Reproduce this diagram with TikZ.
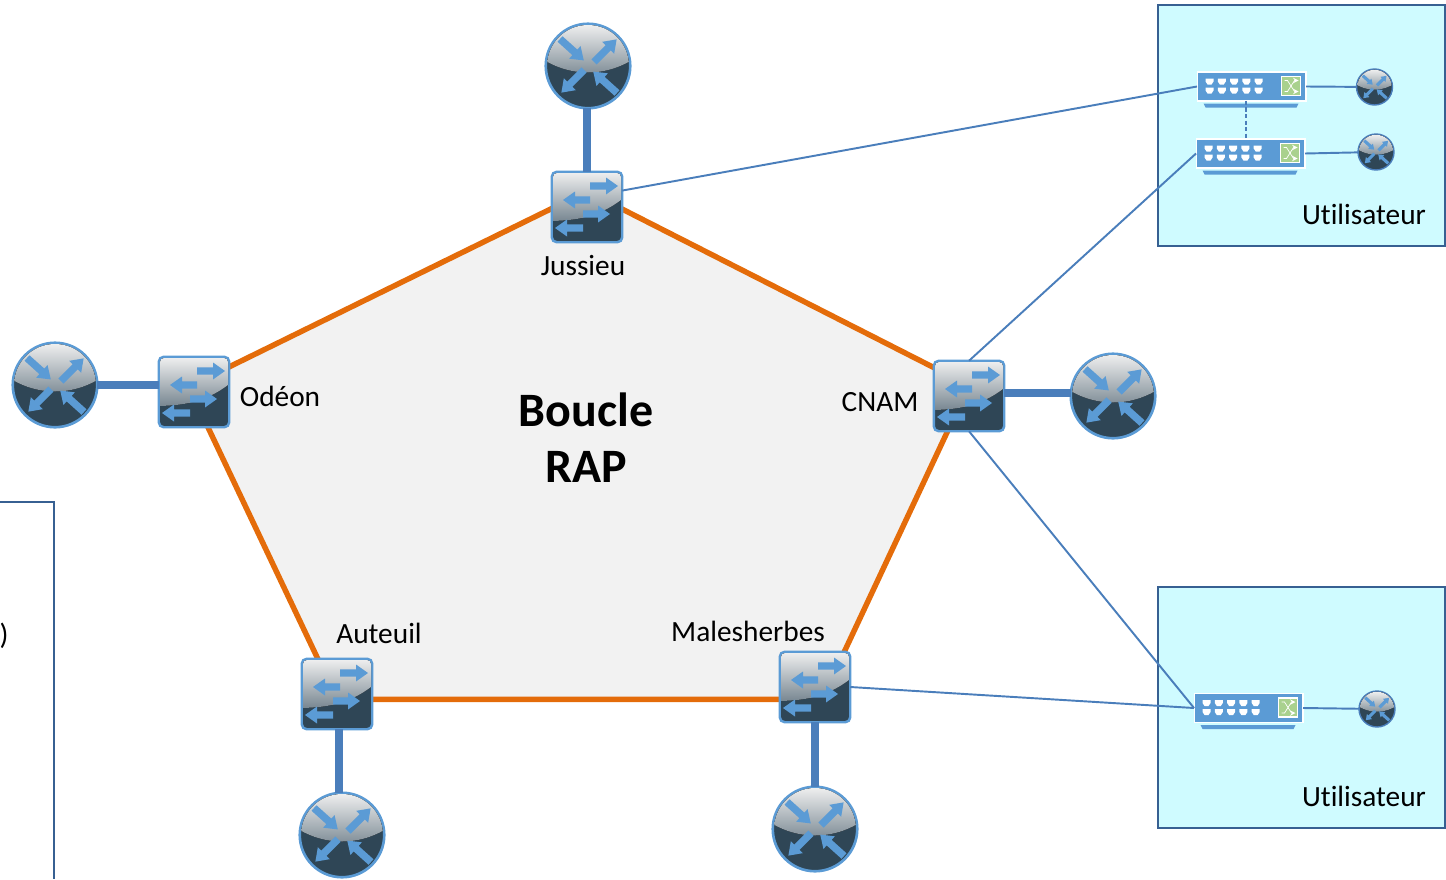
\documentclass[tikz,border=0pt]{standalone}
\usepackage{fontspec}
\setmainfont[Ligatures=NoCommon]{Carlito}
\usetikzlibrary{backgrounds}

\definecolor{ringorange}{HTML}{E46C0A}
\definecolor{ringfill}{HTML}{F2F2F2}
\definecolor{linkblue}{HTML}{4A7EBB}
\definecolor{glyphblue}{HTML}{5B9BD5}
\definecolor{boxline}{HTML}{376092}
\definecolor{boxfill}{HTML}{CFFBFF}
\definecolor{devdark}{HTML}{2F4656}
\definecolor{hubgreen}{HTML}{A9D18E}

\newcommand{\glypharrow}[4]{
    \begin{scope}[shift={(#1,#2)}, rotate=#3]
        \fill[glyphblue] (0,-3.7) -- (#4-12,-3.7) -- (#4-12,-8.5) -- (#4,0) -- (#4-12,8.5) -- (#4-12,3.7) -- (0,3.7) -- cycle;
    \end{scope}
}

\newcommand{\routerdevice}[5]{
    \node[#5] (#1) at (#2,#3) {};
    \begin{scope}[shift={(#1.center)}, scale=#4]
        \begin{scope}
            \clip (0,0) circle (41);
            \fill[top color=black!6, bottom color=devdark!65!white] (-50,-42) -- (50,-42) -- (50,-10)
                .. controls (20,12) and (-20,12) .. (-50,-10) -- cycle;
        \end{scope}
        \glypharrow{-28}{-27}{-42}{32}
        \glypharrow{6}{-4}{45}{32}
        \glypharrow{-4}{4}{-135}{32}
        \glypharrow{29}{27}{138}{32}
    \end{scope}
}

\newcommand{\switchdevice}[3]{
    \node[switchbox] (#1) at (#2,#3) {};
    \begin{scope}[shift={(#1.center)}]
        \begin{scope}
            \clip[rounded corners=.8mm] (-34,-34) rectangle (34,34);
            \fill[top color=black!6, bottom color=devdark!65!white] (-40,-35) -- (40,-35) -- (40,-12)
                .. controls (15,10) and (-10,14) .. (-40,14) -- cycle;
        \end{scope}
        \glypharrow{3}{-21}{0}{28}
        \glypharrow{3}{-7}{180}{27}
        \glypharrow{-4}{7}{0}{27}
        \glypharrow{-4}{21}{180}{28}
    \end{scope}
}

\newcommand{\hubdevice}[3]{
    \node[hubbox] (#1) at (#2,#3) {};
    \begin{scope}[shift={(#1.center)}]
        \fill[glyphblue] (-48,17) -- (47,17) -- (45,21) -- (-46,21) -- cycle;
        \foreach \col in {0,...,4} {
            \foreach \row in {-5,4} {
                \begin{scope}[shift={(-42+12.3*\col,\row)}]
                    \fill[white] (-4,-3) -- (4,-3) -- (4,0) -- (2,3) -- (-2,3) -- (-4,0) -- cycle;
                \end{scope}
            }
        }
        \fill[hubgreen, draw=white, line width=.7pt] (30,-10) rectangle (49,9);
        \draw[white, line width=.4pt, ->, >=stealth] (33,-6) -- (36,-6) -- (43,5) -- (47,5);
        \draw[white, line width=.4pt, ->, >=stealth] (33,5) -- (36,5) -- (43,-6) -- (47,-6);
    \end{scope}
}

\tikzset{
    routerbig/.style={circle, minimum size=1.69cm, inner sep=0pt, outer sep=0pt, fill=devdark,
        draw=glyphblue, line width=1.5pt},
    routersmall/.style={circle, minimum size=.72cm, inner sep=0pt, outer sep=0pt, fill=devdark,
        draw=linkblue, line width=.8pt},
    switchbox/.style={rectangle, rounded corners=1mm, minimum size=1.41cm, inner sep=0pt, outer sep=0pt,
        fill=devdark, draw=glyphblue, line width=1.4pt},
    hubbox/.style={rectangle, minimum width=2.18cm, minimum height=.58cm, inner sep=0pt, outer sep=0pt,
        fill=glyphblue, draw=white, line width=.6pt},
    userbox/.style={rectangle, minimum width=5.74cm, minimum height=4.82cm, inner sep=0pt, outer sep=0pt,
        fill=boxfill, draw=boxline, line width=1.3pt},
    trunk/.style={draw=linkblue, line width=4.4pt},
    thinlink/.style={draw=linkblue, line width=1.1pt},
    ringline/.style={draw=ringorange, fill=ringfill, line width=3.1pt, line join=round},
    site/.style={font=\fontsize{16.7}{20}\selectfont, inner sep=0pt}
}

\begin{document}
\begin{tikzpicture}[x=.02cm, y=-.02cm]
    \useasboundingbox (0,0) rectangle (1446,879);

    \node[userbox] (usertop) at (1301.5,125.5) {};
    \node[userbox] (userbottom) at (1301.5,707.5) {};
    \draw[boxline, line width=1.4pt] (0,502) -- (54,502) -- (54,879);
    \node[site] (cut) at (4,636) {)};

    \switchdevice{jussieu}{587}{207}
    \switchdevice{cnam}{969}{396}
    \switchdevice{malesherbes}{815}{687}
    \switchdevice{auteuil}{337}{694}
    \switchdevice{odeon}{194}{392}

    \routerdevice{rjussieu}{588}{66}{1}{routerbig}
    \routerdevice{rcnam}{1113}{396}{1}{routerbig}
    \routerdevice{rmalesherbes}{815}{829}{1}{routerbig}
    \routerdevice{rauteuil}{342}{835}{1}{routerbig}
    \routerdevice{rodeon}{55}{385}{1}{routerbig}

    \hubdevice{hubone}{1251.5}{86.5}
    \hubdevice{hubtwo}{1250.5}{153.5}
    \hubdevice{hubthree}{1248.5}{708}

    \routerdevice{rone}{1374.5}{87}{.42}{routersmall}
    \routerdevice{rtwo}{1376}{152}{.42}{routersmall}
    \routerdevice{rthree}{1377}{709}{.42}{routersmall}

    \coordinate (cornerj) at ([yshift=9pt]jussieu.center);
    \coordinate (cornerc) at ([yshift=6pt]cnam.center);
    \coordinate (cornerm) at ([xshift=4pt, yshift=-7pt]malesherbes.center);
    \coordinate (cornera) at ([yshift=-3pt]auteuil.center);
    \coordinate (cornero) at ([xshift=-3pt, yshift=3pt]odeon.center);

    \begin{scope}[on background layer]
        \draw[ringline] (cornerj) -- (cornerc) -- (cornerm) -- (cornera) -- (cornero) -- cycle;
    \end{scope}

    \draw[trunk] (rjussieu.south -| jussieu.north) -- (jussieu.north);
    \draw[trunk] ([yshift=1.7pt]rcnam.west) -- ([yshift=1.7pt]cnam.east);
    \draw[trunk] (rmalesherbes.north -| malesherbes.south) -- (malesherbes.south);
    \draw[trunk] ([xshift=1pt]rauteuil.north -| auteuil.south) -- ([xshift=1pt]auteuil.south);
    \draw[trunk] (rodeon.east) -- (rodeon.east -| odeon.west);

    \draw[thinlink] (jussieu.25) -- (hubone.west);
    \draw[thinlink] (cnam.north) -- (hubtwo.west);
    \draw[thinlink] (cnam.south) -- (hubthree.west);
    \draw[thinlink] (malesherbes.east) -- (hubthree.west);
    \draw[thinlink] (hubone.east) -- (rone);
    \draw[thinlink] (hubtwo.east) -- (rtwo);
    \draw[thinlink] (hubthree.east) -- (rthree);
    \draw[thinlink, dashed, dash pattern=on 2.5pt off 1.2pt, line width=.7pt] (hubone.south -| 1246,0) -- (hubtwo.north -| 1246,0);

    \node[site] (ljussieu) at (583,266) {Jussieu};
    \node[site] (lodeon) at (280,396.5) {Odéon};
    \node[site] (lcnam) at (880,402) {CNAM};
    \node[site] (lauteuil) at (379,633.5) {Auteuil};
    \node[site] (lmalesherbes) at (748,631.5) {Malesherbes};
    \node[site] (lusertop) at (1364,214.5) {Utilisateur};
    \node[site] (luserbottom) at (1364,796.5) {Utilisateur};
    \node[font=\fontsize{27.3}{32}\selectfont\bfseries, align=center, inner sep=0pt] (title) at (586,437.5) {Boucle\\RAP};
\end{tikzpicture}
\end{document}
